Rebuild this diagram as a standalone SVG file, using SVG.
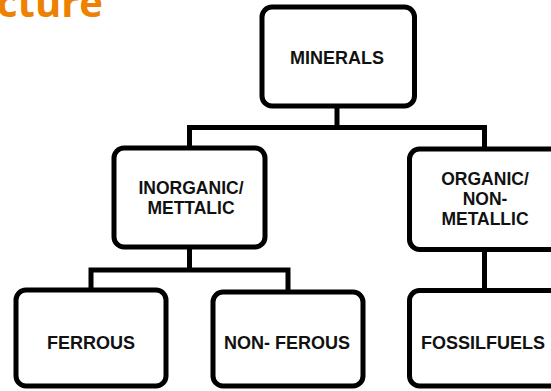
<svg xmlns="http://www.w3.org/2000/svg" width="551" height="391" viewBox="0 0 551 391">
<style>
.box{fill:#fff;stroke:#000;stroke-width:5}
.lbl{font-family:"Liberation Sans",Arial,sans-serif;font-weight:bold;font-size:18px;fill:#111;text-anchor:middle}
.sm{font-size:17.5px}
.conn{fill:none;stroke:#000;stroke-width:5}
.title{font-family:"Open Sans",sans-serif;font-weight:bold;font-size:40px;fill:#EE8100;text-anchor:end}
</style>
<rect width="551" height="391" fill="#fff"/>
<text class="title" x="103" y="17">cture</text>
<g id="connectors">
<path class="conn" d="M337 106V127.5M189.5 127.5H484.5M189.5 125V148M484.5 125V149"/>
<path class="conn" d="M189.5 247V270M91 270H288M91 267.5V290M288 267.5V292"/>
<path class="conn" d="M484.5 249.5V290.5"/>
</g>
<g id="minerals">
<rect class="box" x="262" y="7" width="152.5" height="99" rx="10"/>
<text class="lbl" x="337" y="64">MINERALS</text>
</g>
<g id="inorganic">
<rect class="box" x="114" y="148" width="151" height="99" rx="10"/>
<text class="lbl sm" x="191" y="194">INORGANIC/</text>
<text class="lbl sm" x="191" y="214">METTALIC</text>
</g>
<g id="organic">
<rect class="box" x="409.5" y="149" width="155" height="100.5" rx="10"/>
<text class="lbl sm" x="485" y="185">ORGANIC/</text>
<text class="lbl sm" x="485" y="205">NON-</text>
<text class="lbl sm" x="485" y="225">METALLIC</text>
</g>
<g id="ferrous">
<rect class="box" x="16" y="290" width="150" height="96" rx="10"/>
<text class="lbl" x="91" y="349">FERROUS</text>
</g>
<g id="nonferous">
<rect class="box" x="213" y="292" width="150" height="94" rx="10"/>
<text class="lbl" x="287" y="349">NON- FEROUS</text>
</g>
<g id="fossilfuels">
<rect class="box" x="409.5" y="290.5" width="155" height="95.5" rx="10"/>
<text class="lbl" x="483" y="349">FOSSILFUELS</text>
</g>
</svg>
